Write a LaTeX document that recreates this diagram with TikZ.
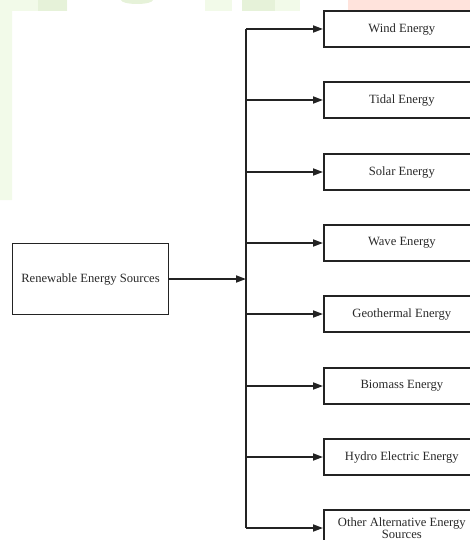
\documentclass[tikz,border=0pt]{standalone}
\usepackage{fontspec}
\setmainfont{Liberation Serif}
\usetikzlibrary{arrows.meta}
\definecolor{darkline}{RGB}{35,35,35}
\definecolor{darktext}{RGB}{40,40,40}
\definecolor{marklight}{RGB}{242,250,233}
\definecolor{markgreen}{RGB}{230,242,217}
\definecolor{markpink}{RGB}{255,227,220}
\newcommand{\widthbox}{156}
\newcommand{\heightkind}{36}
\newcommand{\heightsource}{71}
\tikzset{
    common/.style={draw=darkline, line width=1.7pt, rectangle, text=darktext, align=center,
        minimum width=\widthbox pt, inner sep=2pt, font=\fontsize{12.6}{12.6}\selectfont},
    source/.style={common, minimum height=\heightsource pt},
    kind/.style={common, anchor=west, minimum height=\heightkind pt},
    wire/.style={draw=darkline, line width=1.7pt},
    feed/.style={wire, -{Triangle[length=10pt, width=7pt]}}
}
\begin{document}
\begin{tikzpicture}[x=1pt, y=-1pt]
    \useasboundingbox (0,0) rectangle (470,540);
    \clip (0,0) rectangle (470,540);

    % faint marks along the top and left edge
    \fill[marklight] (0,0) rectangle (67,11) (0,11) rectangle (12,200);
    \fill[markgreen] (38,0) rectangle (67,11);
    \fill[markgreen] (137,0) ellipse (16 and 4);
    \fill[marklight] (205,0) rectangle (232,11);
    \fill[markgreen] (242,0) rectangle (275,11);
    \fill[marklight] (275,0) rectangle (300,11);
    \fill[markpink] (348,0) rectangle (470,11);

    \node[source] (src) at (90.5,279) {Renewable Energy Sources};
    \coordinate (bus) at (246,279);

    \node[kind] (wind) at (323,29) {Wind Energy};
    \node[kind] (tidal) at (323,100) {Tidal Energy};
    \node[kind] (solar) at (323,172) {Solar Energy};
    \node[kind] (wave) at (323,243) {Wave Energy};
    \node[kind] (geo) at (323,314) {Geothermal Energy};
    \node[kind] (bio) at (323,386) {Biomass Energy};
    \node[kind] (hydro) at (323,457) {Hydro Electric Energy};
    \node[kind] (other) at (323,528) {Other Alternative Energy\\Sources};

    \draw[feed] (src) -- (bus);
    \draw[wire] (wind.west -| bus) -- (other.west -| bus);
    \foreach \k in {wind, tidal, solar, wave, geo, bio, hydro, other}
        \draw[feed] (\k.west -| bus) -- (\k.west);
\end{tikzpicture}
\end{document}
